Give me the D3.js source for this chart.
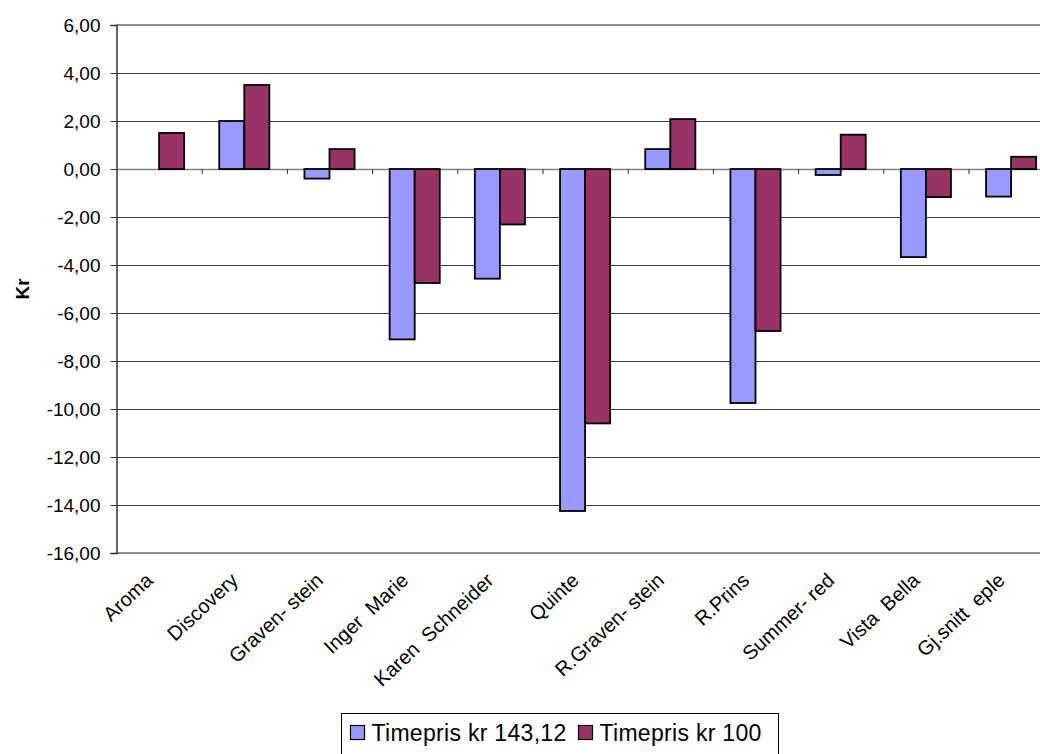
<!DOCTYPE html>
<html>
<head>
<meta charset="utf-8">
<script src="https://cdn.jsdelivr.net/npm/d3@7"></script>
<style>
  html, body { margin: 0; padding: 0; background: #fff; }
  svg { display: block; font-family: "Liberation Sans", Arial, sans-serif; }
</style>
</head>
<body>
<svg id="chart" width="1040" height="754"></svg>
<script>
// Apple varieties and price difference per variety (kr)
const categories = ["Aroma", "Discovery", "Graven- stein", "Inger  Marie", "Karen  Schneider",
  "Quinte", "R.Graven- stein", "R.Prins", "Summer- red", "Vista  Bella", "Gj.snitt  eple"];
const seriesNames = ["Timepris kr 143,12", "Timepris kr 100"];
const timepris14312 = [null, 2.0, -0.4, -7.1, -4.57, -14.25, 0.83, -9.75, -0.25, -3.67, -1.15];
const timepris100 = [1.5, 3.5, 0.83, -4.75, -2.31, -10.6, 2.08, -6.75, 1.43, -1.17, 0.51];
const yTicks = [6, 4, 2, 0, -2, -4, -6, -8, -10, -12, -14, -16];
const colors = ["#9999FF", "#993366"];

const svg = d3.select("#chart");
const plot = { left: 116.5, right: 1053.7, top: 25, bottom: 553 };

const y = d3.scaleLinear().domain([-16, 6]).range([plot.bottom, plot.top]);
const x0 = d3.scaleBand().domain(categories).range([plot.left, plot.right]).padding(0);
const x1 = d3.scaleBand().domain(seriesNames).range([0, x0.bandwidth()])
  .paddingInner(0).paddingOuter(0.7);

const locale = d3.formatLocale({ decimal: ",", thousands: " ", grouping: [3], currency: ["", " kr"], minus: "-" });
const fmt = locale.format(".2f");

// horizontal gridlines
svg.append("g").selectAll("line")
  .data(yTicks.filter(t => t !== 0 && t !== 6 && t !== -16))
  .join("line")
  .attr("x1", plot.left).attr("x2", plot.right)
  .attr("y1", d => Math.round(y(d)) + 0.5).attr("y2", d => Math.round(y(d)) + 0.5)
  .attr("stroke", "#3a3a3a").attr("stroke-width", 1);

// top and bottom frame lines of the plot area
svg.append("g").selectAll("line")
  .data([6, -16])
  .join("line")
  .attr("x1", plot.left).attr("x2", plot.right)
  .attr("y1", d => Math.round(y(d))).attr("y2", d => Math.round(y(d)))
  .attr("stroke", "#8c8c8c").attr("stroke-width", 2);

// zero line
svg.append("line")
  .attr("x1", plot.left).attr("x2", plot.right)
  .attr("y1", Math.round(y(0)) + 0.5).attr("y2", Math.round(y(0)) + 0.5)
  .attr("stroke", "#808080").attr("stroke-width", 1.5);

// y axis
const yAxis = d3.axisLeft(y).tickValues(yTicks).tickFormat(fmt).tickSize(6).tickPadding(10);
const gy = svg.append("g").attr("transform", `translate(${plot.left},0)`).call(yAxis);
gy.select(".domain").attr("stroke", "#333").attr("stroke-width", 1.5);
gy.selectAll(".tick line").attr("stroke", "#333");
gy.selectAll(".tick text").attr("font-size", 19).attr("fill", "#000")
  .attr("font-family", "'Liberation Sans', Arial, sans-serif");

// category boundary ticks on the zero line
svg.append("g").selectAll("line")
  .data(categories.slice(1))
  .join("line")
  .attr("x1", d => x0(d) + 0.5).attr("x2", d => x0(d) + 0.5)
  .attr("y1", y(0)).attr("y2", y(0) + 5)
  .attr("stroke", "#333").attr("stroke-width", 1);

// bars
const rows = categories.map((c, i) => ({ cat: c, vals: [timepris14312[i], timepris100[i]] }));
const groups = svg.append("g").selectAll("g")
  .data(rows).join("g")
  .attr("transform", d => `translate(${x0(d.cat)},0)`);
groups.selectAll("rect")
  .data(d => d.vals.map((v, j) => ({ v, s: seriesNames[j], j })).filter(e => e.v !== null))
  .join("rect")
  .attr("x", d => x1(d.s))
  .attr("width", x1.bandwidth())
  .attr("y", d => y(Math.max(0, d.v)))
  .attr("height", d => Math.abs(y(d.v) - y(0)))
  .attr("fill", d => colors[d.j])
  .attr("stroke", "#000").attr("stroke-width", 1.8);

// category labels, rotated
svg.append("g").selectAll("text")
  .data(categories)
  .join("text")
  .attr("transform", d => `translate(${x0(d) + x0.bandwidth() / 2 - 5},${plot.bottom + 29}) rotate(-43)`)
  .attr("text-anchor", "end")
  .attr("font-size", 20)
  .attr("xml:space", "preserve")
  .style("white-space", "pre")
  .text(d => d);

// y axis title
svg.append("text")
  .attr("transform", `translate(29,${(plot.top + plot.bottom) / 2}) rotate(-90)`)
  .attr("text-anchor", "middle")
  .attr("font-size", 19).attr("font-weight", "bold")
  .text("Kr");

// legend
const legend = svg.append("g").attr("transform", "translate(341.5,713.5)");
legend.append("rect").attr("width", 437).attr("height", 60)
  .attr("fill", "#fff").attr("stroke", "#000").attr("stroke-width", 1);
const legendX = [9, 237];
seriesNames.forEach((s, i) => {
  legend.append("rect").attr("x", legendX[i]).attr("y", 12).attr("width", 14).attr("height", 14)
    .attr("fill", colors[i]).attr("stroke", "#000").attr("stroke-width", 1.2);
  legend.append("text").attr("x", legendX[i] + 21).attr("y", 27)
    .attr("font-size", 23).attr("letter-spacing", 0.3).text(s);
});
</script>
</body>
</html>
